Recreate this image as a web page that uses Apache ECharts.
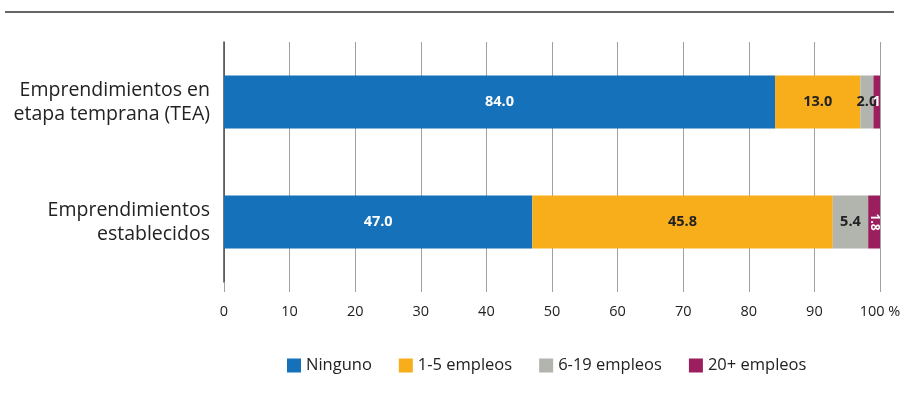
<!DOCTYPE html>
<html>
<head>
<meta charset="utf-8">
<script src="https://cdn.jsdelivr.net/npm/echarts@6/dist/echarts.min.js"></script>
<style>
  html, body { margin: 0; padding: 0; background: #ffffff; }
  #chart { width: 908px; height: 394px; }
</style>
</head>
<body>
<div id="chart"></div>
<script>
// Categories (top to bottom)
const categories = ['Emprendimientos en\netapa temprana (TEA)', 'Emprendimientos\nestablecidos'];

// Share of ventures by number of employees (%)
const ninguno = [84.0, 47.0];
const empleos1a5 = [13.0, 45.8];
const empleos6a19 = [2.0, 5.4];
const empleos20mas = [1, 1.8];

// Text printed on each segment
const labelsNinguno = ['84.0', '47.0'];
const labels1a5 = ['13.0', '45.8'];
const labels6a19 = ['2.0', '5.4'];
const labels20mas = ['1', '1.8'];

const seriesNames = ['Ninguno', '1-5 empleos', '6-19 empleos', '20+ empleos'];
const xTicks = [0, 10, 20, 30, 40, 50, 60, 70, 80, 90, 100];

const FONT = '"Open Sans", "Noto Sans", sans-serif';
const colors = ['#1571ba', '#f8ad1b', '#b2b4ae', '#9b1e5e'];

function segment(name, data, texts, color, labelColor) {
  return {
    name: name,
    type: 'bar',
    stack: 'total',
    barWidth: 53,
    data: data,
    itemStyle: { color: color },
    label: {
      show: true,
      position: 'inside',
      color: labelColor,
      fontFamily: FONT,
      fontWeight: 'bold',
      fontSize: 14.5,
      formatter: p => texts[p.dataIndex]
    },
    emphasis: { disabled: true }
  };
}

const series = [
  segment(seriesNames[0], ninguno, labelsNinguno, colors[0], '#ffffff'),
  segment(seriesNames[1], empleos1a5, labels1a5, colors[1], '#222222'),
  segment(seriesNames[2], empleos6a19, labels6a19, colors[2], '#222222'),
  segment(seriesNames[3], empleos20mas, labels20mas, colors[3], '#ffffff')
];
// The narrow last segment of the second bar carries its value rotated
series[3].data = empleos20mas.map((v, i) => ({
  value: v,
  label: i === 1 ? { rotate: -90, fontSize: 12 } : {}
}));

const chart = echarts.init(document.getElementById('chart'));
chart.setOption({
  animation: false,
  textStyle: { fontFamily: FONT },
  grid: { left: 224, right: 28, top: 42, height: 240 },
  xAxis: {
    type: 'value',
    min: 0,
    max: 100,
    interval: 10,
    axisLine: { show: false },
    axisTick: { show: true, length: 10, lineStyle: { color: '#a0a0a0', width: 1 } },
    splitLine: { show: true, lineStyle: { color: '#a0a0a0', width: 1 } },
    axisLabel: {
      margin: 22,
      color: '#222',
      fontSize: 14.5,
      fontFamily: FONT,
      formatter: v => (xTicks.indexOf(v) === xTicks.length - 1 ? v + ' %' : String(v))
    }
  },
  yAxis: {
    type: 'category',
    inverse: true,
    data: categories,
    axisLine: { show: true, lineStyle: { color: '#4a4a4a', width: 1.5 } },
    axisTick: { show: false },
    axisLabel: {
      margin: 14,
      color: '#222',
      fontSize: 19.5,
      lineHeight: 24,
      fontFamily: FONT,
      align: 'right'
    }
  },
  legend: {
    top: 352,
    left: 282,
    icon: 'rect',
    itemWidth: 14,
    itemHeight: 14,
    itemGap: 27,
    data: seriesNames,
    textStyle: { color: '#222', fontSize: 16.5, fontFamily: FONT },
    selectedMode: false
  },
  graphic: [{
    type: 'line',
    shape: { x1: 5, y1: 12, x2: 894, y2: 12 },
    style: { stroke: '#333', lineWidth: 1.5 }
  }],
  series: series
});
</script>
</body>
</html>
